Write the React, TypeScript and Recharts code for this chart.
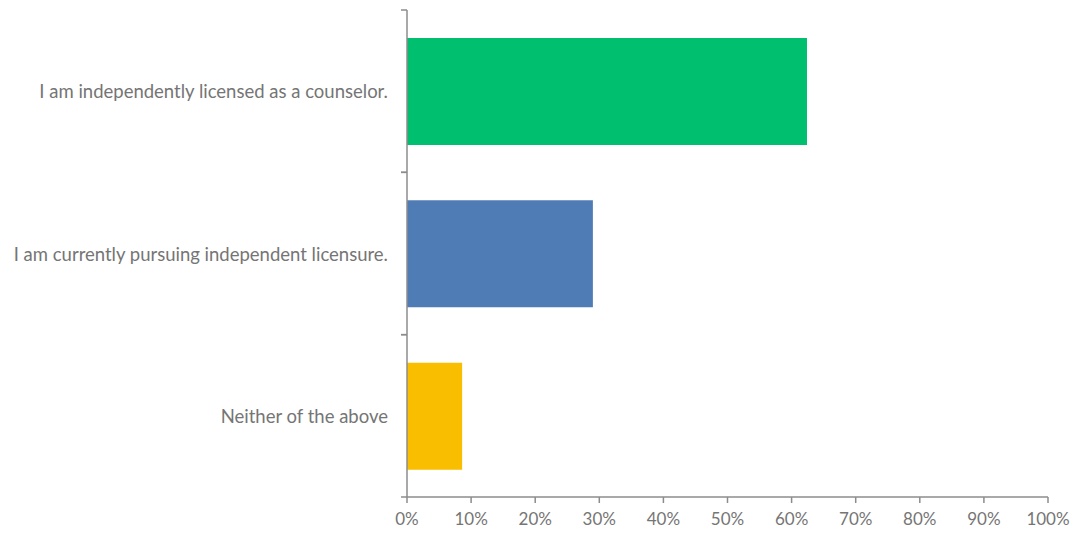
import { BarChart, Bar, XAxis, YAxis, Cell } from 'recharts'

const categories = [
  'I am independently licensed as a counselor.',
  'I am currently pursuing independent licensure.',
  'Neither of the above',
]
const shares = [62.4, 29.0, 8.6]
const barColors = ['#00BF6F', '#507CB6', '#F9BE00']
const xTicks = [0, 10, 20, 30, 40, 50, 60, 70, 80, 90, 100]

const data = categories.map((name, i) => ({ name, value: shares[i] }))

const W = 1073
const H = 536
const margin = { top: 10, right: 25, bottom: 0, left: 0 }
const xAxisHeight = 39
const plotH = H - margin.top - margin.bottom - xAxisHeight
const halfBand = plotH / categories.length / 2

const axisColor = '#8c8c8c'
const textColor = '#757575'
const font = 'Lato, "Open Sans", sans-serif'

// Excel style: tick marks sit on the band edges, not the band centres
function CategoryTick(props: any) {
  const { x, y, payload } = props
  return (
    <g>
      <line x1={x - 6} x2={x} y1={y - halfBand} y2={y - halfBand} stroke={axisColor} strokeWidth={1.5} />
      <line x1={x - 6} x2={x} y1={y + halfBand} y2={y + halfBand} stroke={axisColor} strokeWidth={1.5} />
      <text
        x={x - 19}
        y={y}
        textAnchor="end"
        dominantBaseline="central"
        fill={textColor}
        fontSize={18.5}
        fontFamily={font}
      >
        {payload.value}
      </text>
    </g>
  )
}

export default function App() {
  return (
    <div style={{ position: 'absolute', left: 0, top: 0, width: W, height: H, background: '#fff' }}>
      <BarChart width={W} height={H} data={data} layout="vertical" margin={margin}>
        <XAxis
          type="number"
          domain={[0, 100]}
          ticks={xTicks}
          tickFormatter={(v) => `${v}%`}
          height={xAxisHeight}
          axisLine={{ stroke: axisColor, strokeWidth: 1.5 }}
          tickLine={{ stroke: axisColor, strokeWidth: 1.5 }}
          tickSize={6}
          tickMargin={10}
          tick={{ fill: textColor, fontSize: 17, fontFamily: font }}
          interval={0}
        />
        <YAxis
          type="category"
          dataKey="name"
          width={407}
          axisLine={{ stroke: axisColor, strokeWidth: 1.5 }}
          tickLine={false}
          tickSize={0}
          tickMargin={0}
          tick={<CategoryTick />}
          interval={0}
        />
        <Bar dataKey="value" barSize={107} isAnimationActive={false}>
          {data.map((d, i) => (
            <Cell key={d.name} fill={barColors[i]} />
          ))}
        </Bar>
      </BarChart>
    </div>
  )
}
